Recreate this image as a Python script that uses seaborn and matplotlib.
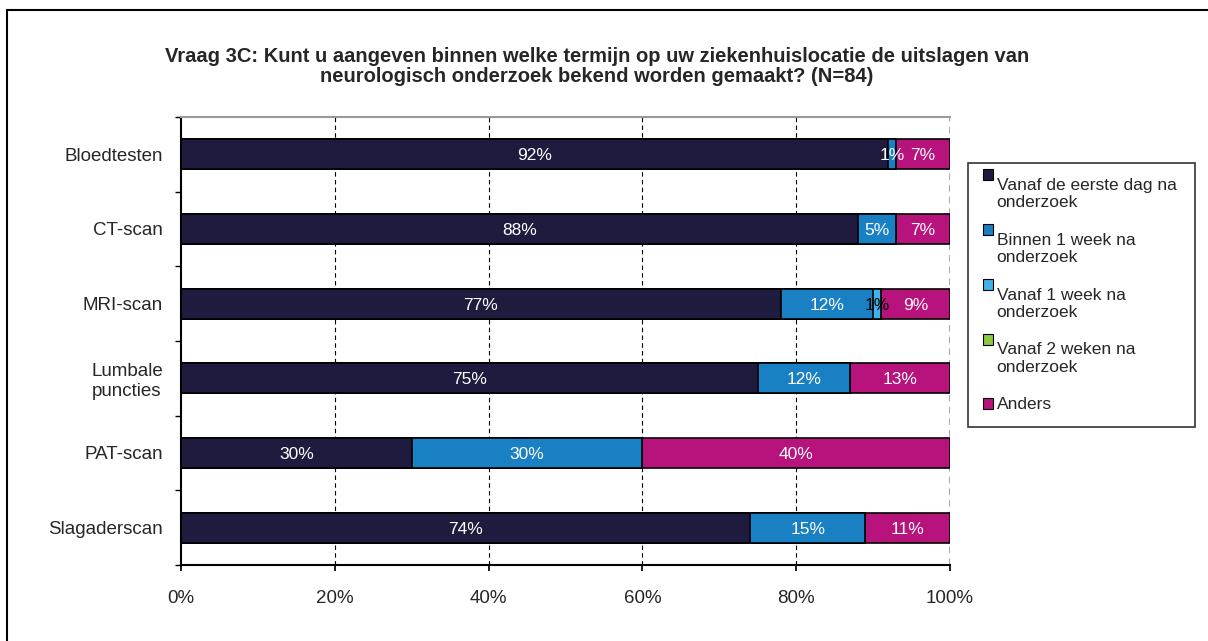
import numpy as np
import pandas as pd
import matplotlib

matplotlib.use('Agg')
import matplotlib.pyplot as plt
import seaborn as sns
from matplotlib.patches import Patch, Rectangle
from matplotlib.legend_handler import HandlerPatch

# ==========================================
# data
# ==========================================
categories = ['Bloedtesten', 'CT-scan', 'MRI-scan', 'Lumbale\npuncties', 'PAT-scan', 'Slagaderscan']
series_names = ['Vanaf de eerste dag na\nonderzoek', 'Binnen 1 week na\nonderzoek',
                'Vanaf 1 week na\nonderzoek', 'Vanaf 2 weken na\nonderzoek', 'Anders']
eerste_dag = [92, 88, 78, 75, 30, 74]
binnen_1_week = [1, 5, 12, 12, 30, 15]
vanaf_1_week = [0, 0, 1, 0, 0, 0]
vanaf_2_weken = [0, 0, 0, 0, 0, 0]
anders = [7, 7, 9, 13, 40, 11]
# labels as printed in the chart
labels_txt = [['92%', '1%', '', '', '7%'],
              ['88%', '5%', '', '', '7%'],
              ['77%', '12%', '1%', '', '9%'],
              ['75%', '12%', '', '', '13%'],
              ['30%', '30%', '', '', '40%'],
              ['74%', '15%', '', '', '11%']]
xticks = [0, 20, 40, 60, 80, 100]

colors = ['#1f1b3e', '#1a80c4', '#3fb2e8', '#8dc63f', '#b8127d']
text_colors = ['white', 'white', 'black', 'black', 'white']

sns.set_theme(style="white")
plt.rcParams['font.family'] = ['Liberation Sans', 'DejaVu Sans']

values = np.array([eerste_dag, binnen_1_week, vanaf_1_week, vanaf_2_weken, anders], dtype=float)
cum = values.cumsum(axis=0)

fig = plt.figure(figsize=(12.08, 6.41), dpi=100)
ax = fig.add_axes([0.1498, 0.1186, 0.6366, 0.699])

# stacked bars via overlapping cumulative totals (largest first)
for i in range(len(series_names) - 1, -1, -1):
    df = pd.DataFrame({'cat': categories, 'val': cum[i]})
    sns.barplot(data=df, x='val', y='cat', orient='h', color=colors[i], saturation=1,
                width=0.4, edgecolor='black', linewidth=1.2, ax=ax)

# segment labels
for i in range(len(series_names)):
    for j in range(len(categories)):
        txt = labels_txt[j][i]
        if txt:
            ax.text(cum[i][j] - values[i][j] / 2, j + 0.02, txt, ha='center', va='center',
                    color=text_colors[i], fontsize=12.5)

ax.set_xlim(0, 100)
ax.set_ylim(len(categories) - 0.5, -0.5)
ax.set_xticks(xticks)
ax.set_xticklabels([f'{t}%' for t in xticks], fontsize=13.5)
ax.set_xlabel('')
ax.set_ylabel('')
ax.tick_params(axis='y', length=0, labelsize=13.5, pad=13)
ax.tick_params(axis='x', length=4, direction='out', color='black', pad=14, bottom=True)
ax.set_yticks(np.arange(-0.5, len(categories)), minor=True)
ax.tick_params(axis='y', which='minor', length=4, direction='out', color='black', left=True)
for lbl in ax.get_yticklabels():
    lbl.set_multialignment('center')

# grid lines
for t in xticks[1:-1]:
    ax.axvline(t, color='black', linestyle=(0, (4, 3)), linewidth=0.8, zorder=0)
ax.axvline(100, color='#999999', linestyle=(0, (4, 3)), linewidth=1.2, zorder=0)

for s in ['left', 'bottom']:
    ax.spines[s].set_color('black')
    ax.spines[s].set_linewidth(1.5)
ax.spines['top'].set_color('#999999')
ax.spines['top'].set_linewidth(1.5)
ax.spines['right'].set_visible(False)


# legend: square next to the first line of a two-line label
def top_square(legend, orig_handle, xdescent, ydescent, width, height, fontsize):
    return Rectangle((-xdescent, -ydescent + 1.12 * fontsize), width, height)


handles = [Patch(facecolor=c, edgecolor='black', linewidth=0.8) for c in colors]
hmap = {h: HandlerPatch(patch_func=top_square) for h in handles[:-1]}
leg = fig.legend(handles, series_names, loc='upper left', bbox_to_anchor=(0.8013, 0.646, 0.188, 0.1),
                 mode='expand', handler_map=hmap,
                 fontsize=12.5, frameon=True, fancybox=False, edgecolor='black',
                 handlelength=0.6, handleheight=0.6, handletextpad=0.2,
                 labelspacing=1.3, borderpad=0.85, borderaxespad=0)
leg.get_frame().set_linewidth(1.2)

# title
fig.text(0.494, 0.896, 'Vraag 3C: Kunt u aangeven binnen welke termijn op uw ziekenhuislocatie de uitslagen van\n'
         'neurologisch onderzoek bekend worden gemaakt? (N=84)',
         ha='center', va='center', fontsize=14.5, fontweight='bold', linespacing=1.1)

# outer frame
fig.patches.append(Rectangle((7 / 1208, -0.1), 1.2, 1 - 10 / 641 + 0.1, transform=fig.transFigure,
                             fill=False, edgecolor='black', linewidth=1.5))

fig.savefig('out.png', dpi=100)
plt.close(fig)
